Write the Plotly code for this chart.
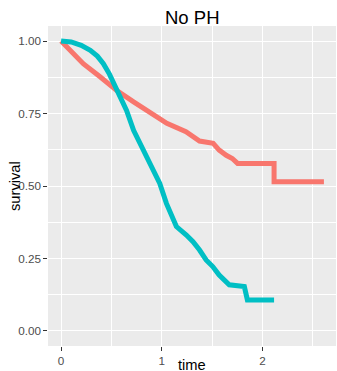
import plotly.graph_objects as go

# Group 1 (red) survival curve
red_time = [0, 0.09, 0.22, 0.39, 0.55, 0.72, 0.88, 1.05, 1.24, 1.375, 1.51, 1.57, 1.64, 1.70, 1.753, 2.115, 2.115, 2.61]
red_surv = [1.0, 0.968, 0.922, 0.876, 0.83, 0.79, 0.755, 0.716, 0.687, 0.655, 0.647, 0.624, 0.606, 0.595, 0.578, 0.578, 0.515, 0.515]

# Group 2 (cyan) survival curve
cyan_time = [0, 0.1, 0.2, 0.29, 0.36, 0.42, 0.48, 0.54, 0.65, 0.72, 0.815, 0.9, 0.98, 1.046, 1.096, 1.145, 1.244, 1.31, 1.375, 1.44, 1.506, 1.57, 1.67, 1.82, 1.85, 2.115]
cyan_surv = [1.0, 0.997, 0.985, 0.968, 0.948, 0.922, 0.886, 0.842, 0.761, 0.692, 0.624, 0.561, 0.509, 0.44, 0.394, 0.36, 0.331, 0.308, 0.279, 0.245, 0.222, 0.193, 0.159, 0.153, 0.107, 0.107]

x_ticks = [0, 1, 2]
y_ticks = [0, 0.25, 0.5, 0.75, 1.0]
y_tick_labels = ["0.00", "0.25", "0.50", "0.75", "1.00"]

FONT = "Liberation Sans, Arial, sans-serif"

fig = go.Figure()
fig.add_trace(go.Scatter(x=red_time, y=red_surv, mode="lines",
                         line=dict(color="#F8766D", width=5), showlegend=False))
fig.add_trace(go.Scatter(x=cyan_time, y=cyan_surv, mode="lines",
                         line=dict(color="#00BFC4", width=5), showlegend=False))

fig.update_layout(
    width=337, height=371,
    margin=dict(l=48, r=1, t=26, b=25),
    paper_bgcolor="white",
    plot_bgcolor="#EBEBEB",
    font=dict(family=FONT),
    xaxis=dict(
        range=[-0.13, 2.73], tickvals=x_ticks, ticktext=[str(v) for v in x_ticks],
        showgrid=True, gridcolor="white", gridwidth=1.3, zeroline=False,
        ticks="outside", ticklen=3.7, tickcolor="#333333", tickwidth=1,
        tickfont=dict(size=11.7, color="#4D4D4D"),
        minor=dict(tickvals=[0.5, 1.5, 2.5], showgrid=True, gridcolor="white", gridwidth=0.6, ticks=""),
        showline=False, automargin=False,
    ),
    yaxis=dict(
        range=[-0.052, 1.052], tickvals=y_ticks, ticktext=y_tick_labels,
        showgrid=True, gridcolor="white", gridwidth=1.3, zeroline=False,
        ticks="outside", ticklen=3.7, tickcolor="#333333", tickwidth=1,
        tickfont=dict(size=11.7, color="#4D4D4D"),
        minor=dict(tickvals=[0.125, 0.375, 0.625, 0.875], showgrid=True, gridcolor="white", gridwidth=0.6, ticks=""),
        showline=False, automargin=False,
    ),
    annotations=[
        dict(text="No PH", xref="paper", yref="paper", x=0.5, y=1, yshift=-4,
             xanchor="center", yanchor="bottom", showarrow=False,
             font=dict(size=18.5, color="black", family=FONT)),
        dict(text="time", xref="paper", yref="paper", x=0.5, y=0, yshift=-9,
             xanchor="center", yanchor="top", showarrow=False,
             font=dict(size=14.7, color="black", family=FONT)),
        dict(text="survival", xref="paper", yref="paper", x=0, y=0.5, xshift=-33,
             xanchor="center", yanchor="middle", textangle=-90, showarrow=False,
             font=dict(size=14.7, color="black", family=FONT)),
    ],
)

fig.write_html("out.html", config={"displayModeBar": False},
               post_script="document.body.style.margin='0';document.body.style.overflow='hidden';")
